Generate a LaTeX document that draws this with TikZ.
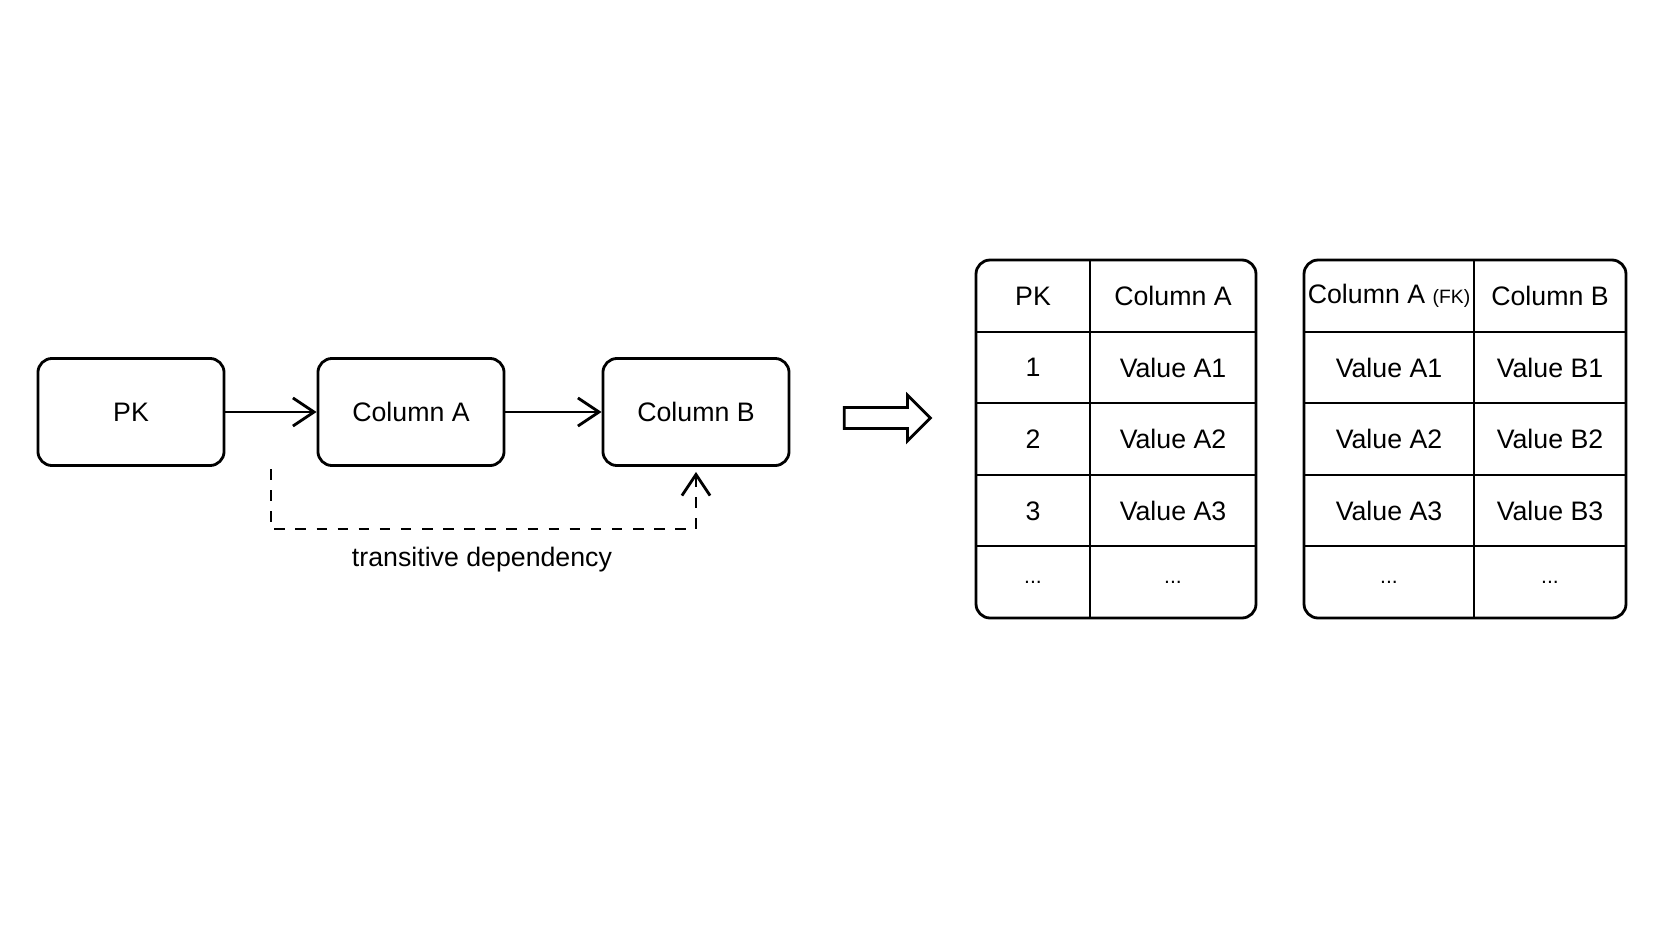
\documentclass[tikz,border=0pt]{standalone}
\usepackage{fontspec}
\setmainfont{Liberation Sans}
\usetikzlibrary{positioning,calc,shapes.arrows,arrows.meta}

\tikzset{
  box/.style={draw,thick,rounded corners=4pt,minimum width=1.86cm,minimum height=1.07cm,font=\fontsize{7.6}{9}\selectfont},
  flow/.style={->,thick,>={Straight Barb[length=6pt,width=8pt]}},
  cell/.style={font=\fontsize{7.6}{9}\selectfont,inner sep=0pt}
}
\newcommand{\etcdots}{{\fontsize{6}{7}\selectfont...}}

\begin{document}
\begin{tikzpicture}[x=0.01cm,y=0.01cm]
  \useasboundingbox[fill=white] (0,0) rectangle (1672,941);

  % Left: dependency chain
  \node[box] (pk) at (131,529) {PK};
  \node[box] (cola) at (411,529) {Column A};
  \node[box] (colb) at (696,529) {Column B};
  \draw[flow] (pk) -- (cola);
  \draw[flow] (cola) -- (colb);

  % transitive dependency
  \coordinate (dstart) at (271,472);
  \draw[flow,dashed] (dstart) -- ++(0,-60) -| ($(colb.south)+(0,-5)$);
  \node[cell] (trans) at (482,381) {transitive dependency};

  % Middle: decomposition arrow
  \node[draw,thick,single arrow,minimum height=0.86cm,inner xsep=0pt,inner ysep=2.6pt,single arrow head extend=3.5pt,single arrow head indent=0pt] (split) at (882,523) {};

  % Right: table PK / Column A
  \draw[thick,rounded corners=4pt] (976,323) rectangle (1256,681);
  \draw[thick] (1090,323) -- (1090,681);
  \foreach \y in {395,466,538,609} \draw[thick] (976,\y) -- (1256,\y);
  \foreach \k/\a [count=\i from 0] in {PK/Column A,1/Value A1,2/Value A2,3/Value A3,\etcdots/\etcdots} {
    \node[cell] (ta\i) at (1033,645-71.6*\i) {\k};
    \node[cell] (tb\i) at (1173,645-71.6*\i) {\a};
  }

  % Right: table Column A (FK) / Column B
  \draw[thick,rounded corners=4pt] (1304,323) rectangle (1626,681);
  \draw[thick] (1474,323) -- (1474,681);
  \foreach \y in {395,466,538,609} \draw[thick] (1304,\y) -- (1626,\y);
  \foreach \k/\a [count=\i from 0] in {{Column A {\fontsize{5.5}{7}\selectfont(FK)}}/Column B,Value A1/Value B1,Value A2/Value B2,Value A3/Value B3,\etcdots/\etcdots} {
    \node[cell] (tc\i) at (1389,645-71.6*\i) {\k};
    \node[cell] (td\i) at (1550,645-71.6*\i) {\a};
  }
\end{tikzpicture}
\end{document}
